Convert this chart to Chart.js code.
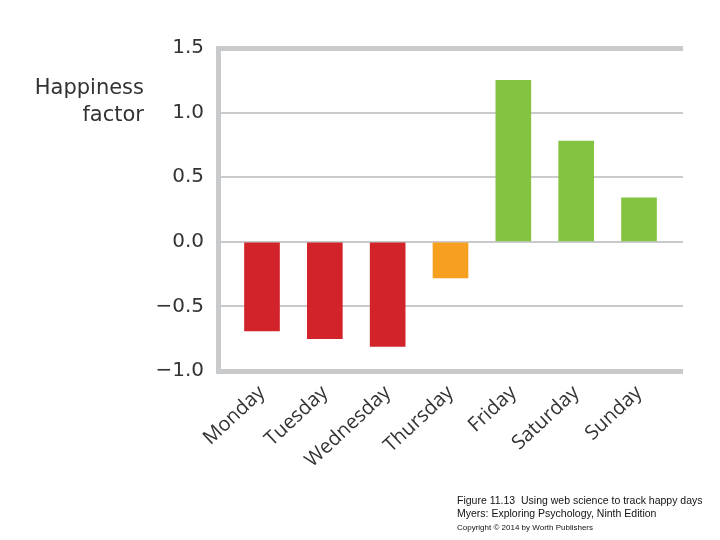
<!DOCTYPE html>
<html>
<head>
<meta charset="utf-8">
<script src="https://cdn.jsdelivr.net/npm/chart.js@4/dist/chart.umd.min.js"></script>
<style>
  html, body { margin: 0; padding: 0; background: #fff; }
  #wrap { position: relative; width: 720px; height: 540px; }
  #axisTitle {
    position: absolute; right: 576px; top: 74px;
    font: 21px "DejaVu Sans", sans-serif; color: #333;
    text-align: right; line-height: 27px;
  }
  #caption {
    position: absolute; left: 457px; top: 494px;
    font: 10.5px "Liberation Sans", Arial, sans-serif; color: #111;
    line-height: 13px;
  }
  #caption .small { font-size: 8px; }
</style>
</head>
<body>
<div id="wrap">
  <canvas id="chart" width="720" height="540"></canvas>
  <div id="axisTitle">Happiness<br>factor</div>
  <div id="caption">
    Figure 11.13&nbsp; Using web science to track happy days<br>
    Myers: Exploring Psychology, Ninth Edition<br>
    <span class="small">Copyright © 2014 by Worth Publishers</span>
  </div>
</div>
<script>
/* global Chart */

// data
const days = ["Monday", "Tuesday", "Wednesday", "Thursday", "Friday", "Saturday", "Sunday"];
const happiness = [-0.69, -0.75, -0.81, -0.28, 1.25, 0.78, 0.34];
const yTicks = [-1.0, -0.5, 0.0, 0.5, 1.0, 1.5];

const RED = "#d2232a";
const ORANGE = "#f7a020";
const GREEN = "#84c341";
const barColors = [RED, RED, RED, ORANGE, GREEN, GREEN, GREEN];
const LINE = "#c9cacc";
const TEXT = "#333";
const FONT = { family: "'DejaVu Sans', sans-serif", size: 20 };
const X_FONT = { family: "'Open Sans', sans-serif", size: 20 };

const ctx = document.getElementById("chart").getContext("2d");
new Chart(ctx, {
  type: "bar",
  data: {
    datasets: [{
      data: days.map((d, i) => ({ x: i, y: happiness[i] })),
      backgroundColor: barColors,
      borderWidth: 0,
      barThickness: 35,
    }],
  },
  options: {
    responsive: false,
    animation: false,
    devicePixelRatio: 1,
    layout: { padding: { left: 148, right: 37, top: 48, bottom: 0 } },
    plugins: { legend: { display: false }, tooltip: { enabled: false } },
    scales: {
      x: {
        type: "linear",
        offset: false,
        min: -0.7,
        max: 6.7,
        afterFit: (s) => { s.height = 169; },
        grid: { display: false, drawTicks: false, offset: false },
        border: { display: false },
        ticks: {
          stepSize: 1,
          includeBounds: false,
          autoSkip: false,
          maxRotation: 43,
          minRotation: 43,
          padding: 10,
          color: TEXT,
          font: X_FONT,
          callback: (v) => days[v] ?? "",
        },
      },
      y: {
        min: yTicks[0],
        max: yTicks[yTicks.length - 1],
        afterFit: (s) => { s.width = 70; },
        afterBuildTicks: (s) => { s.ticks = yTicks.map((v) => ({ value: v })); },
        grid: {
          color: LINE,
          drawTicks: false,
          lineWidth: (c) => (c.tick && (c.tick.value === 1.5 || c.tick.value === -1) ? 5 : 2),
        },
        border: { display: true, color: LINE, width: 5 },
        ticks: {
          padding: 14,
          color: TEXT,
          font: FONT,
          callback: (v) => Number(v).toFixed(1).replace("-", "\u2212"),
        },
      },
    },
  },
});
</script>
</body>
</html>
